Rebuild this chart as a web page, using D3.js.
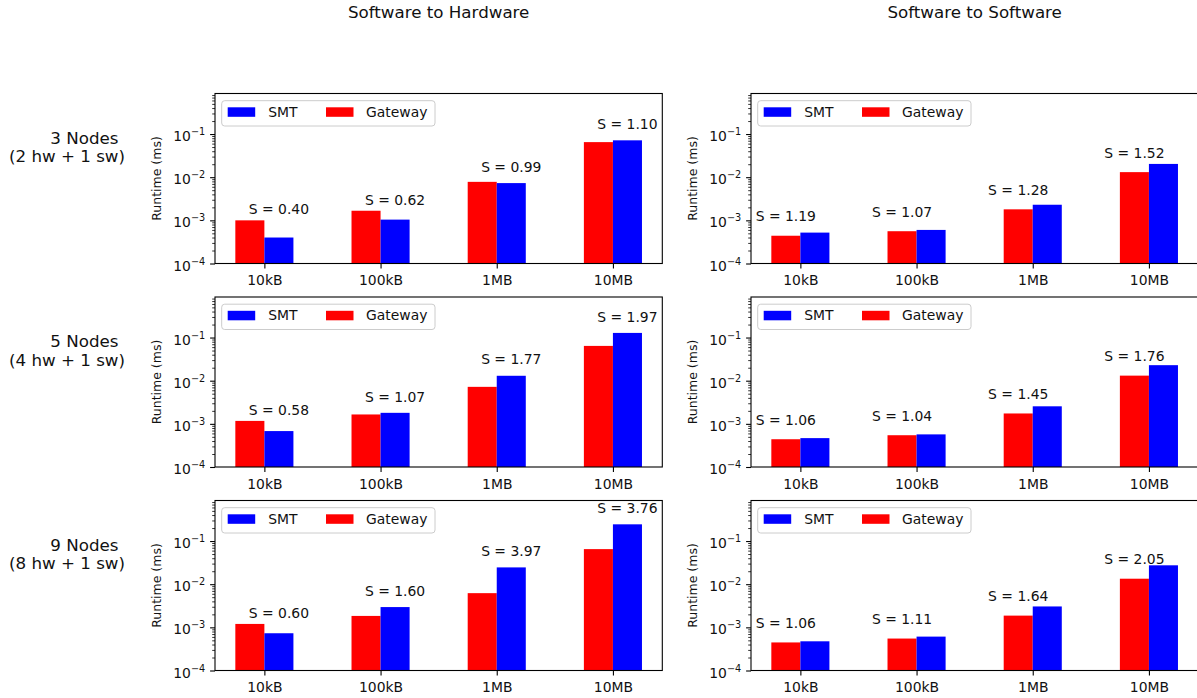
<!DOCTYPE html>
<html>
<head>
<meta charset="utf-8">
<script src="https://cdn.jsdelivr.net/npm/d3@7"></script>
<style>
  body { margin: 0; background: #fff; }
  svg { display: block; font-family: "DejaVu Sans", sans-serif; }
</style>
</head>
<body>
<svg id="fig" width="1197" height="698"></svg>
<script>
"use strict";

// message sizes on the x axis
const sizes = ["10kB", "100kB", "1MB", "10MB"];

const columnTitles = ["Software to Hardware", "Software to Software"];

// row headers, two lines each
const rowTitles = [
  ["3 Nodes", "(2 hw + 1 sw)"],
  ["5 Nodes", "(4 hw + 1 sw)"],
  ["9 Nodes", "(8 hw + 1 sw)"]
];

const seriesNames = ["SMT", "Gateway"];

// runtimes in ms, one row per node count
const gatewaySwHw = [
  [1.0e-3, 1.67e-3, 7.8e-3, 0.065],
  [1.17e-3, 1.65e-3, 7.2e-3, 0.064],
  [1.2e-3, 1.84e-3, 6.2e-3, 0.065]
];
const smtSwHw = [
  [4.0e-4, 1.04e-3, 7.3e-3, 0.0715],
  [6.8e-4, 1.8e-3, 0.013, 0.128],
  [7.3e-4, 2.95e-3, 0.0245, 0.244]
];
const speedupSwHw = [
  ["0.40", "0.62", "0.99", "1.10"],
  ["0.58", "1.07", "1.77", "1.97"],
  ["0.60", "1.60", "3.97", "3.76"]
];

const gatewaySwSw = [
  [4.4e-4, 5.6e-4, 1.8e-3, 0.0131],
  [4.4e-4, 5.45e-4, 1.74e-3, 0.0131],
  [4.47e-4, 5.5e-4, 1.87e-3, 0.0134]
];
const smtSwSw = [
  [5.2e-4, 6.0e-4, 2.3e-3, 0.0203],
  [4.67e-4, 5.7e-4, 2.55e-3, 0.0229],
  [4.75e-4, 6.1e-4, 3.05e-3, 0.0274]
];
const speedupSwSw = [
  ["1.19", "1.07", "1.28", "1.52"],
  ["1.06", "1.04", "1.45", "1.76"],
  ["1.06", "1.11", "1.64", "2.05"]
];

const yMajor = [1e-4, 1e-3, 1e-2, 1e-1];

/*
  layout
*/
const colX = [215, 751];
const rowY0 = 93.5, rowStep = 203.5;
const panelW = 447.3, panelH = 170;
const textColor = "#111";
const gwColor = "#ff0000", smtColor = "#0000ff";
const barW = 0.25;

const svg = d3.select("#fig");
svg.append("rect").attr("width", 1197).attr("height", 698).attr("fill", "#fff");

// minor ticks for the log axis
var yMinor = [];
for (var k = -4; k <= -1; k++) {
  for (var m = 2; m <= 9; m++) {
    var v = m * Math.pow(10, k);
    if (v < 0.87) yMinor.push(v);
  }
}

// column titles
columnTitles.forEach(function(t, c) {
  svg.append("text")
    .attr("x", colX[c] + panelW / 2)
    .attr("y", 18)
    .attr("text-anchor", "middle")
    .attr("font-size", 16.7)
    .attr("fill", textColor)
    .text(t);
});

// row titles
rowTitles.forEach(function(lines, r) {
  var top = rowY0 + r * rowStep;
  svg.append("text")
    .attr("x", 118.5).attr("y", top + 50)
    .attr("text-anchor", "end").attr("font-size", 16.7).attr("fill", textColor)
    .text(lines[0]);
  svg.append("text")
    .attr("x", 125).attr("y", top + 68.8)
    .attr("text-anchor", "end").attr("font-size", 16.7).attr("fill", textColor)
    .text(lines[1]);
});

function drawPanel(r, c) {
  const gw = c === 0 ? gatewaySwHw[r] : gatewaySwSw[r];
  const smt = c === 0 ? smtSwHw[r] : smtSwSw[r];
  const sp = c === 0 ? speedupSwHw[r] : speedupSwSw[r];

  const g = svg.append("g")
    .attr("transform", "translate(" + colX[c] + "," + (rowY0 + r * rowStep) + ")");

  const x = d3.scaleLinear().domain([-0.425, 3.425]).range([0, panelW]);
  const y = d3.scaleLog().domain([1e-4, 0.87]).range([panelH, 0]);

  // gateway bars (left of tick)
  g.selectAll(".gw").data(gw).enter().append("rect")
    .attr("x", function(d, i) { return x(i - barW); })
    .attr("width", function(d, i) { return x(i) - x(i - barW); })
    .attr("y", function(d) { return y(d); })
    .attr("height", function(d) { return panelH - y(d); })
    .attr("fill", gwColor);

  // SMT bars (right of tick)
  g.selectAll(".smt").data(smt).enter().append("rect")
    .attr("x", function(d, i) { return x(i); })
    .attr("width", function(d, i) { return x(i + barW) - x(i); })
    .attr("y", function(d) { return y(d); })
    .attr("height", function(d) { return panelH - y(d); })
    .attr("fill", smtColor);

  // speedup labels: over the SMT bar on the left, over the gateway bar on the right
  g.selectAll(".sp").data(sp).enter().append("text")
    .attr("x", function(d, i) { return c === 0 ? x(i + barW / 2) : x(i - barW / 2); })
    .attr("y", function(d, i) {
      if (c === 1) return y(gw[i]) - 14.4;
      return Math.min(y(smt[i]) - 11.3, y(gw[i]) - 6);
    })
    .attr("text-anchor", "middle")
    .attr("font-size", 13.9)
    .attr("fill", textColor)
    .text(function(d) { return "S = " + d; });

  // y axis: minor ticks
  const minorAx = g.append("g")
    .call(d3.axisLeft(y).tickValues(yMinor).tickSize(2.8).tickFormat(""));
  minorAx.select(".domain").remove();
  minorAx.selectAll("line").attr("stroke", "#000").attr("stroke-width", 0.8);

  // y axis: major ticks with 10^n labels
  const majorAx = g.append("g")
    .call(d3.axisLeft(y).tickValues(yMajor).tickSize(4.9).tickPadding(4.9).tickFormat(""));
  majorAx.select(".domain").remove();
  majorAx.selectAll("line").attr("stroke", "#000").attr("stroke-width", 1.1);
  majorAx.selectAll(".tick text").each(function(d) {
    const t = d3.select(this)
      .attr("dy", 6.5)
      .attr("font-size", 13.9)
      .attr("font-family", "DejaVu Sans")
      .attr("fill", textColor);
    t.append("tspan").text("10");
    t.append("tspan").attr("dy", -6).attr("font-size", 9.7)
      .text("\u2212" + Math.round(-Math.log10(d)));
  });

  // x axis
  const xAx = g.append("g")
    .attr("transform", "translate(0," + panelH + ")")
    .call(d3.axisBottom(x).tickValues([0, 1, 2, 3]).tickSize(4.9).tickPadding(4.9)
      .tickFormat(function(i) { return sizes[i]; }));
  xAx.select(".domain").remove();
  xAx.selectAll("line").attr("stroke", "#000").attr("stroke-width", 1.1);
  xAx.selectAll("text")
    .attr("dy", 11.9)
    .attr("font-size", 13.9)
    .attr("font-family", "DejaVu Sans")
    .attr("fill", textColor);

  // y label
  g.append("text")
    .attr("transform", "translate(-54," + panelH / 2 + ") rotate(-90)")
    .attr("text-anchor", "middle")
    .attr("font-size", 12.5)
    .attr("fill", textColor)
    .text("Runtime (ms)");

  // frame
  g.append("rect")
    .attr("width", panelW).attr("height", panelH)
    .attr("fill", "none").attr("stroke", "#000").attr("stroke-width", 1.1);

  // legend
  const lg = g.append("g").attr("transform", "translate(6.7,7.2)");
  lg.append("rect")
    .attr("width", 213.3).attr("height", 25.3).attr("rx", 3)
    .attr("fill", "#fff").attr("fill-opacity", 0.8)
    .attr("stroke", "#ccc").attr("stroke-width", 1);
  const items = [
    { name: seriesNames[0], color: smtColor, hx: 6, tx: 46.6 },
    { name: seriesNames[1], color: gwColor, hx: 104.3, tx: 144.3 }
  ];
  items.forEach(function(it) {
    lg.append("rect")
      .attr("x", it.hx).attr("y", 6.6)
      .attr("width", 27.5).attr("height", 9.5)
      .attr("fill", it.color);
    lg.append("text")
      .attr("x", it.tx).attr("y", 16)
      .attr("font-size", 13.9)
      .attr("fill", textColor)
      .text(it.name);
  });
}

for (var r = 0; r < 3; r++) {
  for (var c = 0; c < 2; c++) drawPanel(r, c);
}
</script>
</body>
</html>
